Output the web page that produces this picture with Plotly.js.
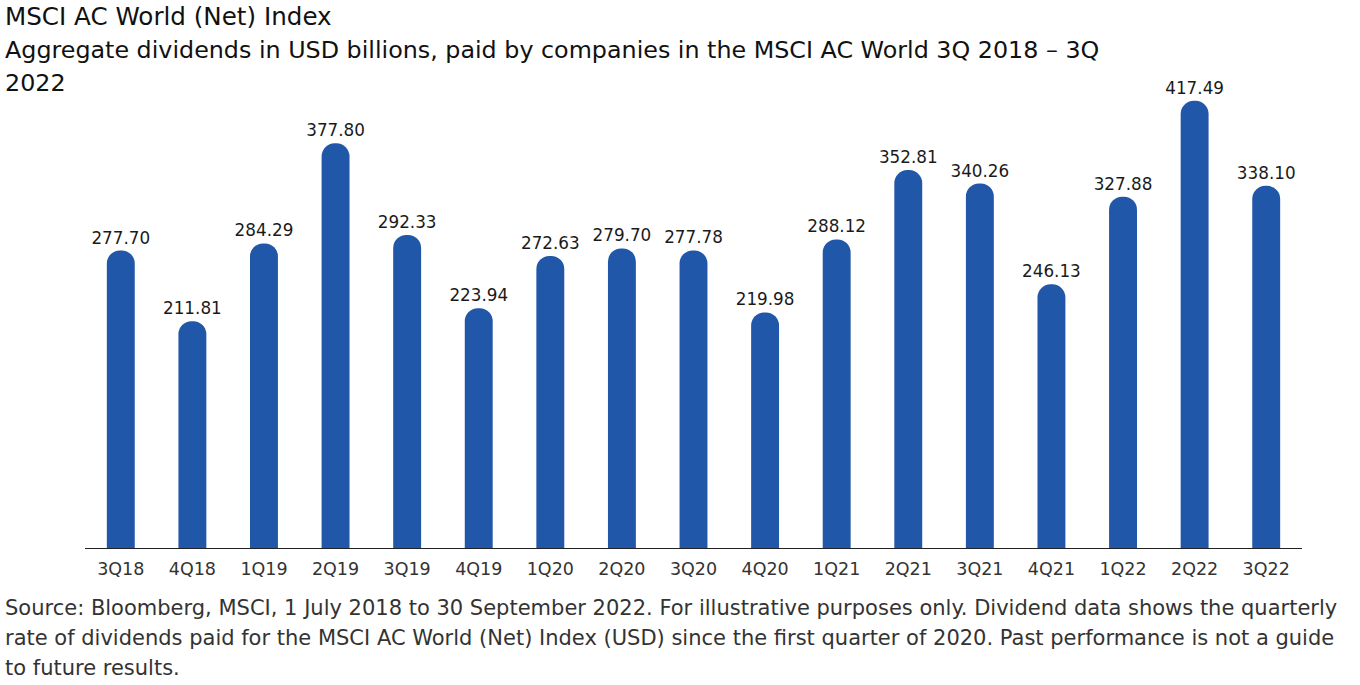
<!DOCTYPE html>
<html>
<head>
<meta charset="utf-8">
<script src="https://cdn.plot.ly/plotly-3.0.1.min.js"></script>
<style>
html,body{margin:0;padding:0;background:#fff;}
#chart{width:1360px;height:685px;}
</style>
</head>
<body>
<div id="chart"></div>
<script>
const quarters = ["3Q18","4Q18","1Q19","2Q19","3Q19","4Q19","1Q20","2Q20","3Q20","4Q20","1Q21","2Q21","3Q21","4Q21","1Q22","2Q22","3Q22"];
const dividends = [277.70,211.81,284.29,377.80,292.33,223.94,272.63,279.70,277.78,219.98,288.12,352.81,340.26,246.13,327.88,417.49,338.10];
const titleLines = [
  "MSCI AC World (Net) Index",
  "Aggregate dividends in USD billions, paid by companies in the MSCI AC World 3Q 2018 – 3Q",
  "2022"
];
const footnoteLines = [
  "Source: Bloomberg, MSCI, 1 July 2018 to 30 September 2022. For illustrative purposes only. Dividend data shows the quarterly",
  "rate of dividends paid for the MSCI AC World (Net) Index (USD) since the first quarter of 2020. Past performance is not a guide",
  "to future results."
];

const trace = {
  type: "bar",
  x: quarters,
  y: dividends,
  text: dividends.map(v => v.toFixed(2)),
  textposition: "outside",
  constraintext: "none",
  cliponaxis: false,
  textfont: {family: "DejaVu Sans", size: 16.8, color: "#1a1a1a"},
  marker: {color: "#2157a8", cornerradius: 14, line: {width: 0}},
  hoverinfo: "x+y"
};

const titleShifts = [50, 16, -17];
const titleSizes = [24.6, 23.8, 23.8];
const footShifts = [-60, -90, -120];
const annotations = [];
titleLines.forEach((t, i) => annotations.push({
  xref: "paper", yref: "paper", x: 0, y: 1, xshift: -82, yshift: titleShifts[i],
  xanchor: "left", yanchor: "middle", align: "left", showarrow: false, text: t,
  font: {family: "DejaVu Sans", size: titleSizes[i], color: "#111"}
}));
footnoteLines.forEach((t, i) => annotations.push({
  xref: "paper", yref: "paper", x: 0, y: 0, xshift: -82, yshift: footShifts[i],
  xanchor: "left", yanchor: "middle", align: "left", showarrow: false, text: t,
  font: {family: "DejaVu Sans", size: 21, color: "#333"}
}));

const layout = {
  width: 1360, height: 685,
  margin: {l: 85, r: 58, t: 66, b: 137},
  paper_bgcolor: "#fff", plot_bgcolor: "#fff",
  bargap: 0.61,
  showlegend: false,
  xaxis: {
    showline: true, linecolor: "#222", linewidth: 1,
    ticks: "", showgrid: false, zeroline: false,
    ticklabelstandoff: 5,
    tickfont: {family: "DejaVu Sans", size: 17.5, color: "#333"},
    fixedrange: true
  },
  yaxis: {
    range: [0, 450], visible: false, showgrid: false, zeroline: false, fixedrange: true
  },
  annotations: annotations
};

Plotly.newPlot("chart", [trace], layout, {displayModeBar: false, staticPlot: true});
</script>
</body>
</html>
